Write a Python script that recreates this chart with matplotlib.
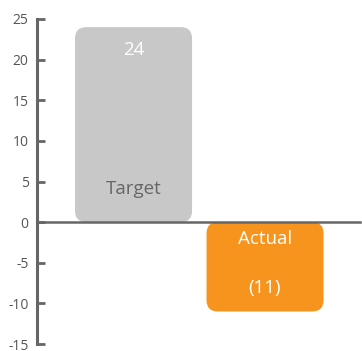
import matplotlib
matplotlib.use('Agg')
import matplotlib.pyplot as plt
from matplotlib.patches import FancyBboxPatch

# Daten
categories = ['Target', 'Actual']
values = [24, -11]
value_labels = ['24', '(11)']
bar_colors = ['#C8C8C9', '#F7941D']
y_ticks = [25, 20, 15, 10, 5, 0, -5, -10, -15]

AXIS_COLOR = '#666666'
plt.rcParams['font.family'] = ['Open Sans', 'DejaVu Sans']
plt.rcParams['axes.unicode_minus'] = False

fig = plt.figure(figsize=(3.62, 3.51), dpi=100)
ax = fig.add_axes([37 / 362, 7 / 351, 323 / 362, 325 / 351])

x = list(range(len(categories)))
bars = ax.bar(x, values, width=0.89, color=bar_colors)

# Balken durch abgerundete Rechtecke ersetzen
for b, c in zip(bars, bar_colors):
    b.set_visible(False)
    rx, ry = b.get_x(), b.get_y()
    w, h = b.get_width(), b.get_height()
    if h < 0:
        ry, h = ry + h, -h
    patch = FancyBboxPatch((rx, ry), w, h,
                           boxstyle='round,pad=0,rounding_size=0.085',
                           mutation_aspect=16.2, facecolor=c, edgecolor='none')
    ax.add_patch(patch)

ax.set_xlim(-0.734, 1.722)
ax.set_ylim(-15, 25)
ax.set_yticks(y_ticks)
ax.set_xticks([])

ax.spines['top'].set_visible(False)
ax.spines['right'].set_visible(False)
ax.spines['left'].set_color(AXIS_COLOR)
ax.spines['left'].set_linewidth(2.2)
ax.spines['bottom'].set_position(('data', 0))
ax.spines['bottom'].set_color(AXIS_COLOR)
ax.spines['bottom'].set_linewidth(1.8)
ax.tick_params(axis='y', direction='in', length=6, width=2, color=AXIS_COLOR,
               labelcolor='#555555', labelsize=10, pad=6)

# Beschriftungen
ax.text(x[0], 21.2, value_labels[0], color='white', fontsize=13.5, ha='center', va='center')
ax.text(x[0], 4.1, categories[0], color='#666666', fontsize=13.5, ha='center', va='center')
ax.text(x[1], -2.1, categories[1], color='white', fontsize=13.5, ha='center', va='center')
ax.text(x[1], -8.1, value_labels[1], color='white', fontsize=13.5, ha='center', va='center')

fig.savefig('out.png', dpi=100)
